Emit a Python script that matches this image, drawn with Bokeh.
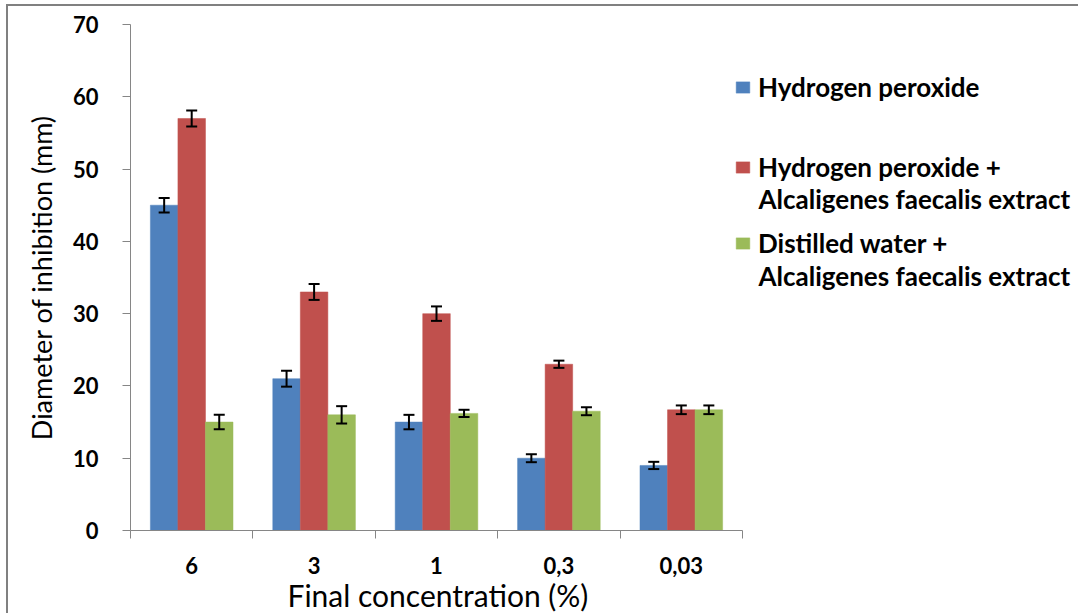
from bokeh.plotting import figure
from bokeh.models import (ColumnDataSource, Whisker, FixedTicker, Legend, LegendItem,
                          Label, Range1d, TeeHead, Title)
from bokeh.embed import file_html
from bokeh.resources import INLINE

categories = ["6", "3", "1", "0,3", "0,03"]
series_names = ["Hydrogen peroxide", "Hydrogen peroxide +", "Distilled water +"]
second_lines = ["", "Alcaligenes faecalis extract", "Alcaligenes faecalis extract"]
h2o2 = [45, 21, 15, 10, 9]
h2o2_err = [1.0, 1.1, 1.0, 0.55, 0.5]
h2o2_af = [57, 33, 30, 23, 16.7]
h2o2_af_err = [1.1, 1.1, 1.0, 0.5, 0.6]
water_af = [15, 16, 16.2, 16.5, 16.7]
water_af_err = [1.0, 1.2, 0.5, 0.55, 0.6]
yticks = [0, 10, 20, 30, 40, 50, 60, 70]
x_title = "Final concentration (%)"
y_title = "Diameter of inhibition (mm)"

series = [h2o2, h2o2_af, water_af]
errors = [h2o2_err, h2o2_af_err, water_af_err]
colors = ["#4F81BD", "#C0504D", "#9BBB59"]
offsets = [-0.225, 0.0, 0.225]
bar_w = 0.225

FONT = "Lato"

# layout (pixels)
W, H = 1072, 609
LEFT, TOP, BOTTOM = 122, 18, 85
axis_px = 612                       # width of the categorical axis
frame_w = W - LEFT
frame_h = H - TOP - BOTTOM
ncat = len(categories)
cat_px = axis_px / ncat
x_end = frame_w / cat_px
y_max = 70

p = figure(width=W, height=H, output_backend="svg", toolbar_location=None,
           x_range=Range1d(0, x_end), y_range=Range1d(0, y_max),
           min_border_left=LEFT, min_border_top=TOP, min_border_right=0,
           min_border_bottom=BOTTOM)
p.outline_line_color = None
p.xgrid.grid_line_color = None
p.ygrid.grid_line_color = None
p.background_fill_color = "white"
p.border_fill_color = "white"

renderers = []
for vals, errs, col, off in zip(series, errors, colors, offsets):
    xs = [i + 0.5 + off for i in range(ncat)]
    src = ColumnDataSource(dict(x=xs, top=vals,
                                upper=[v + e for v, e in zip(vals, errs)],
                                lower=[v - e for v, e in zip(vals, errs)]))
    r = p.vbar(x="x", top="top", width=bar_w, bottom=0, source=src,
               fill_color=col, line_color=col, line_width=0.5)
    renderers.append(r)
    w = Whisker(base="x", upper="upper", lower="lower", source=src,
                line_color="black", line_width=2, level="overlay",
                upper_head=TeeHead(size=11, line_width=2, line_color="black"),
                lower_head=TeeHead(size=11, line_width=2, line_color="black"))
    p.add_layout(w)

axis_col = "#868686"
# x axis (ticks at category boundaries, labels at centres)
p.xaxis.bounds = (0, ncat)
p.xaxis.ticker = FixedTicker(ticks=[i + 0.5 for i in range(ncat)],
                             minor_ticks=list(range(ncat + 1)))
p.xaxis.major_label_overrides = {i + 0.5: c for i, c in enumerate(categories)}
p.xaxis.major_tick_out = 0
p.xaxis.major_tick_in = 0
p.xaxis.minor_tick_out = 8
p.xaxis.minor_tick_in = 0
p.xaxis.minor_tick_line_color = axis_col
p.xaxis.axis_line_color = axis_col
p.xaxis.major_label_standoff = 18
p.xaxis.major_label_text_font = FONT
p.xaxis.major_label_text_font_style = "bold"
p.xaxis.major_label_text_font_size = "22px"
p.xaxis.major_label_text_color = "black"

# x axis title, centred under the categorical axis (not the wider frame)
p.add_layout(Title(text=x_title, align="left", offset=157, standoff=-3,
                   text_font=FONT, text_font_style="normal", text_font_size="30px",
                   text_color="black"), "below")

# y axis
p.yaxis.ticker = FixedTicker(ticks=yticks)
p.yaxis.minor_tick_line_color = None
p.yaxis.major_tick_out = 8
p.yaxis.major_tick_in = 0
p.yaxis.major_tick_line_color = axis_col
p.yaxis.axis_line_color = axis_col
p.yaxis.major_label_standoff = 24
p.yaxis.major_label_text_font = FONT
p.yaxis.major_label_text_font_style = "bold"
p.yaxis.major_label_text_font_size = "22px"
p.yaxis.major_label_text_color = "black"
p.yaxis.axis_label = y_title
p.yaxis.axis_label_text_font = FONT
p.yaxis.axis_label_text_font_style = "normal"
p.yaxis.axis_label_text_font_size = "27px"
p.yaxis.axis_label_text_color = "black"
p.yaxis.axis_label_standoff = 12

# legend: one single-item legend per series (first line), second lines as labels
LEG_FS = 26
item_h = 32
px_per_y = frame_h / y_max
page_top = 6                         # figure content offset on the page
frame_bottom_page = page_top + TOP + frame_h
first_line_px = [87, 167, 243]      # page y of first-line centres
second_line_px = [None, 198, 275]
legend_left_px = 604                # from frame left
text_left_px = 628                  # from frame left
for name, r, fy, sy, txt in zip(series_names, renderers, first_line_px, second_line_px, second_lines):
    y_from_bottom = frame_bottom_page - (fy + item_h / 2)
    lg = Legend(items=[LegendItem(label=name, renderers=[r])],
                location=(legend_left_px, y_from_bottom), orientation="vertical",
                glyph_width=17, glyph_height=14, label_standoff=7,
                padding=0, margin=0, border_line_color=None, background_fill_alpha=0,
                label_text_font=FONT, label_text_font_style="bold",
                label_text_font_size=f"{LEG_FS}px", label_text_color="black")
    p.add_layout(lg)
    if txt:
        p.add_layout(Label(x=text_left_px / cat_px, y=(frame_bottom_page - sy) / px_per_y,
                           text=txt, text_font=FONT, text_font_style="bold",
                           text_font_size=f"{LEG_FS}px", text_color="black",
                           text_baseline="middle", text_align="left"))

p.styles = {"margin-left": "6px", "margin-top": "4px",
            "border-left": "2px solid #808080", "border-top": "2px solid #808080"}

open("out.html", "w").write(file_html(p, INLINE))
